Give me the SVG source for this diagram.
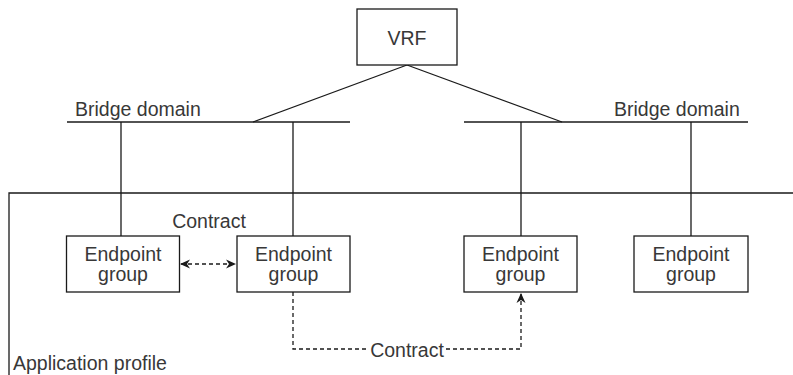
<svg xmlns="http://www.w3.org/2000/svg" width="793" height="375" viewBox="0 0 793 375">
  <style>
    .box { fill: #ffffff; stroke: #1a1a1a; stroke-width: 1.3; }
    .ln { fill: none; stroke: #1a1a1a; stroke-width: 1.3; }
    .dash { fill: none; stroke: #1a1a1a; stroke-width: 1.3; stroke-dasharray: 4 3; }
    .t { font-family: "Liberation Sans", Arial, sans-serif; font-size: 19.5px; fill: #383838; }
    .c { text-anchor: middle; }
  </style>
  <defs>
    <marker id="arrow" viewBox="0 0 10 10" refX="9" refY="5" markerWidth="10" markerHeight="10" markerUnits="userSpaceOnUse" orient="auto-start-reverse">
      <path d="M0,0.5 L10,5 L0,9.5 L3,5 z" fill="#1a1a1a"/>
    </marker>
  </defs>

  <rect width="793" height="375" fill="#ffffff"/>

  <!-- application profile container -->
  <g id="app-profile">
    <path class="ln" d="M 800 193 H 9 V 380"/>
    <text class="t" x="13" y="370">Application profile</text>
  </g>

  <!-- connectors -->
  <g id="connectors">
    <!-- bridge domains -->
    <path class="ln" d="M 67 122 H 350"/>
    <path class="ln" d="M 464 122 H 748"/>
    <!-- VRF to bridge domains -->
    <path class="ln" d="M 407 65 L 253 122"/>
    <path class="ln" d="M 407 65 L 562 122"/>
    <!-- bridge domains to endpoint groups -->
    <path class="ln" d="M 121 122 V 236"/>
    <path class="ln" d="M 293 122 V 236"/>
    <path class="ln" d="M 521 122 V 236"/>
    <path class="ln" d="M 691 122 V 236"/>
    <!-- contracts -->
    <path class="dash" d="M 181 264 H 235" marker-start="url(#arrow)" marker-end="url(#arrow)"/>
    <path class="dash" d="M 293 292 V 349 H 521 V 294" marker-end="url(#arrow)"/>
    <rect x="368" y="340" width="77" height="20" fill="#ffffff"/>
    <text class="t c" x="407" y="357">Contract</text>
  </g>

  <g id="bd-left">
    <text class="t" x="75" y="116">Bridge domain</text>
  </g>
  <g id="bd-right">
    <text class="t" x="614" y="116">Bridge domain</text>
  </g>

  <g id="vrf">
    <rect class="box" x="357" y="9" width="100" height="56"/>
    <text class="t c" x="407" y="45">VRF</text>
  </g>

  <g id="contract-label">
    <text class="t c" x="209" y="228">Contract</text>
  </g>

  <g id="epg-1">
    <rect class="box" x="66.5" y="236" width="113" height="56"/>
    <text class="t c" x="123" y="261">Endpoint</text>
    <text class="t c" x="123" y="281">group</text>
  </g>
  <g id="epg-2">
    <rect class="box" x="237" y="236" width="113" height="56"/>
    <text class="t c" x="293.5" y="261">Endpoint</text>
    <text class="t c" x="293.5" y="281">group</text>
  </g>
  <g id="epg-3">
    <rect class="box" x="464" y="236" width="113" height="56"/>
    <text class="t c" x="520.5" y="261">Endpoint</text>
    <text class="t c" x="520.5" y="281">group</text>
  </g>
  <g id="epg-4">
    <rect class="box" x="634" y="236" width="114" height="56"/>
    <text class="t c" x="691" y="261">Endpoint</text>
    <text class="t c" x="691" y="281">group</text>
  </g>
</svg>
